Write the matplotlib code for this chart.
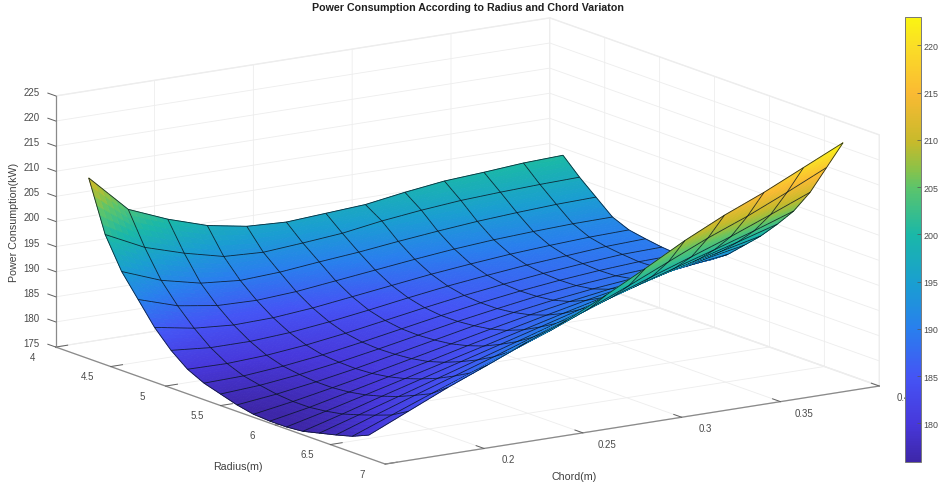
import matplotlib
matplotlib.use('Agg')
import matplotlib.pyplot as plt
import numpy as np
from matplotlib.colors import LinearSegmentedColormap, Normalize
from matplotlib.cm import ScalarMappable
from mpl_toolkits.mplot3d import proj3d
from mpl_toolkits.mplot3d.art3d import Poly3DCollection

plt.rcParams['font.family'] = ['Liberation Sans', 'DejaVu Sans']

radius = [4.3, 4.45, 4.6, 4.75, 4.9, 5.05, 5.2, 5.35, 5.5, 5.65, 5.8, 5.95, 6.1, 6.25, 6.4, 6.55, 6.7, 6.85]
chord = [0.15, 0.17, 0.19, 0.21, 0.23, 0.25, 0.27, 0.29, 0.31, 0.33, 0.35, 0.37, 0.39]
power = [
    [211.0, 203.5, 200.3, 197.8, 196.4, 196.0, 196.5, 197.0, 198.2, 199.2, 199.7, 200.3, 200.6],
    [200.9, 197.1, 194.7, 192.8, 192.4, 193.0, 193.7, 194.9, 195.8, 196.5, 196.9, 197.2, 197.4],
    [194.7, 191.7, 189.9, 189.2, 189.6, 190.4, 191.1, 192.0, 192.8, 193.5, 194.0, 194.4, 194.6],
    [190.3, 187.8, 186.6, 186.4, 186.9, 187.8, 188.7, 189.6, 190.4, 191.0, 191.4, 191.7, 191.8],
    [185.9, 184.5, 183.9, 184.1, 184.8, 185.8, 186.8, 187.8, 188.6, 189.3, 189.8, 190.2, 190.4],
    [182.5, 181.8, 181.8, 182.3, 183.2, 184.3, 185.5, 186.6, 187.5, 188.3, 188.9, 189.5, 189.8],
    [179.9, 179.8, 180.2, 181.0, 182.1, 183.4, 184.7, 185.9, 186.9, 187.8, 188.5, 189.1, 189.3],
    [178.3, 178.5, 179.2, 180.2, 181.5, 182.9, 184.3, 185.6, 186.7, 187.6, 188.3, 188.8, 189.0],
    [177.3, 177.8, 178.7, 179.9, 181.3, 182.8, 184.3, 185.6, 186.8, 187.7, 188.4, 188.9, 189.2],
    [176.3, 177.2, 178.4, 179.8, 181.4, 183.0, 184.6, 186.0, 187.2, 188.2, 189.0, 189.7, 190.3],
    [175.6, 176.9, 178.4, 180.0, 181.7, 183.4, 185.1, 186.7, 188.1, 189.3, 190.4, 191.5, 192.5],
    [175.4, 176.9, 178.7, 180.5, 182.3, 184.2, 186.0, 187.8, 189.5, 191.0, 192.5, 194.0, 195.5],
    [175.4, 177.3, 179.3, 181.3, 183.3, 185.3, 187.3, 189.3, 191.2, 193.0, 194.9, 196.7, 198.5],
    [175.7, 177.9, 180.2, 182.4, 184.6, 186.8, 189.0, 191.2, 193.3, 195.4, 197.5, 199.7, 202.0],
    [176.5, 178.9, 181.3, 183.7, 186.1, 188.5, 190.9, 193.4, 195.8, 198.2, 200.6, 203.1, 205.8],
    [177.3, 180.0, 182.7, 185.3, 187.9, 190.6, 193.3, 196.1, 198.9, 201.6, 204.4, 207.5, 210.7],
    [178.2, 181.2, 184.2, 187.1, 190.1, 193.0, 196.2, 199.5, 203.0, 206.5, 209.6, 213.1, 216.8],
    [179.6, 183.1, 186.6, 189.8, 193.1, 196.2, 200.0, 204.1, 208.4, 212.2, 215.5, 219.2, 222.9],
]
radius_ticks = [4, 4.5, 5, 5.5, 6, 6.5, 7]
radius_labels = ['4', '4.5', '5', '5.5', '6', '6.5', '7']
chord_ticks = [0.2, 0.25, 0.3, 0.35, 0.4]
chord_labels = ['0.2', '0.25', '0.3', '0.35', '0.4']
power_ticks = list(range(175, 230, 5))
colorbar_ticks = list(range(180, 225, 5))

parula = LinearSegmentedColormap.from_list('parula', [
    (0.0, (0.24, 0.15, 0.66)), (0.085, (0.28, 0.22, 0.86)), (0.19, (0.27, 0.33, 0.96)),
    (0.30, (0.16, 0.50, 0.93)), (0.40, (0.10, 0.62, 0.82)), (0.51, (0.10, 0.72, 0.66)),
    (0.617, (0.36, 0.77, 0.42)), (0.66, (0.55, 0.76, 0.28)), (0.72, (0.78, 0.73, 0.17)),
    (0.83, (0.98, 0.73, 0.20)), (0.936, (0.98, 0.87, 0.15)), (1.0, (0.98, 0.96, 0.07))])
norm = Normalize(175.9, 223)

W, H = 939, 485
fig = plt.figure(figsize=(W / 100, H / 100), dpi=100)

# square 3d axes bigger than the figure, the box is only partly using it
size, cx, cy = 853, 456, 253.5
ax = fig.add_axes([(cx - size / 2) / W, (H - cy - size / 2) / H, size / W, size / H],
                  projection='3d', proj_type='ortho', computed_zorder=False)
ax.view_init(elev=13.7, azim=-33.7)
ax.set_box_aspect((595, 595, 259))
ax.set_xlim(4, 7, view_margin=0)
ax.set_ylim(0.15, 0.4, view_margin=0)
ax.set_zlim(175, 225, view_margin=0)
ax.patch.set_alpha(0)

# smooth colour like shading interp: split each cell for the colour only
R, C, Z = np.array(radius), np.array(chord), np.array(power)
n = 6
ju = np.arange((len(R) - 1) * n + 1) / n
iu = np.arange((len(C) - 1) * n + 1) / n
Zf = np.array([np.interp(iu, np.arange(len(C)), row) for row in Z])
Zf = np.array([np.interp(ju, np.arange(len(R)), col) for col in Zf.T]).T
Rf = np.interp(ju, np.arange(len(R)), R)
Cf = np.interp(iu, np.arange(len(C)), C)
Xf, Yf = np.meshgrid(Rf, Cf, indexing='ij')
P = np.dstack([Xf, Yf, Zf])

quads = np.stack([P[:-1, :-1], P[:-1, 1:], P[1:, 1:], P[1:, :-1]], axis=2).reshape(-1, 4, 3)
quad_col = parula(norm(quads[:, :, 2].mean(axis=1)))

# the mesh lines go into the same collection, pushed a bit to the camera so they sort on top
e, a = np.radians(13.7), np.radians(-33.7)
toward = 0.03 * np.array([np.cos(e) * np.cos(a) * 3, np.cos(e) * np.sin(a) * 0.25,
                          np.sin(e) * 50 * 595 / 259])
segs = []
for j in range(0, P.shape[0], n):
    for k in range(P.shape[1] - 1):
        segs.append([P[j, k], P[j, k + 1], P[j, k + 1], P[j, k]])
for k in range(0, P.shape[1], n):
    for j in range(P.shape[0] - 1):
        segs.append([P[j, k], P[j + 1, k], P[j + 1, k], P[j, k]])
segs = np.array(segs) + toward
line_col = np.tile([0.03, 0.08, 0.12, 0.85], (len(segs), 1))

verts = np.concatenate([quads, segs])
face = np.concatenate([quad_col, line_col])
ax.add_collection3d(Poly3DCollection(verts, facecolors=face, edgecolors=face, linewidths=0.6))

ax.set_xticks(radius_ticks)
ax.set_xticklabels([])
ax.set_yticks(chord_ticks)
ax.set_yticklabels([])
ax.set_zticks(power_ticks)
ax.set_zticklabels([])
ax.zaxis._axinfo['juggled'] = (1, 2, 0)
for axis in (ax.xaxis, ax.yaxis, ax.zaxis):
    axis.set_pane_color((1, 1, 1, 1))
    axis.pane.set_edgecolor('#eeeeee')
    axis.line.set_color('#8a8a8a')
    axis.line.set_linewidth(0.9)
    axis._axinfo['grid'].update(color='#ededed', linewidth=0.6)
    axis._axinfo['tick'].update(inward_factor=0, outward_factor=0.3, linewidth={True: 0.7, False: 0.5})
    axis.set_tick_params(color='#606060')


def tick_label(x, y, z, s):
    # matplotlib can't move 3d tick labels freely, so project the spot and write it in 2d
    px, py, _ = proj3d.proj_transform(x, y, z, ax.get_proj())
    ax.text2D(px, py, s, transform=ax.transData, ha='center', va='center',
              fontsize=7, color='#4a4a4a')


for r, s in zip(radius_ticks, radius_labels):
    tick_label(r, 0.15 - 0.0116, 175 - 1.2, s)
for c, s in zip(chord_ticks, chord_labels):
    tick_label(7 + 0.218, c, 175 - 0.5, s)
for p in power_ticks:
    tick_label(4 - 0.2227, 0.15, p - 0.93, str(p))

fig.text(468 / W, 1 - 8 / H, 'Power Consumption According to Radius and Chord Variaton',
         ha='center', va='center', fontsize=7.7, fontweight='bold', color='#202020')
fig.text(238 / W, 1 - 467 / H, 'Radius(m)', ha='center', va='center', fontsize=7.7, color='#404040')
fig.text(574 / W, 1 - 477 / H, 'Chord(m)', ha='center', va='center', fontsize=7.7, color='#404040')
fig.text(14 / W, 1 - 222 / H, 'Power Consumption(kW)', rotation=90, ha='center', va='center',
         fontsize=7.7, color='#404040')

cax = fig.add_axes([905 / W, 1 - 463 / H, 16 / W, 445 / H])
cb = fig.colorbar(ScalarMappable(norm=norm, cmap=parula), cax=cax, ticks=colorbar_ticks)
cb.ax.tick_params(labelsize=6.4, length=3, width=0.5, color='#555555', labelcolor='#4a4a4a', direction='in', pad=2)
cb.outline.set_linewidth(0.7)
cb.outline.set_edgecolor('#777777')

fig.savefig('out.png', dpi=100)
